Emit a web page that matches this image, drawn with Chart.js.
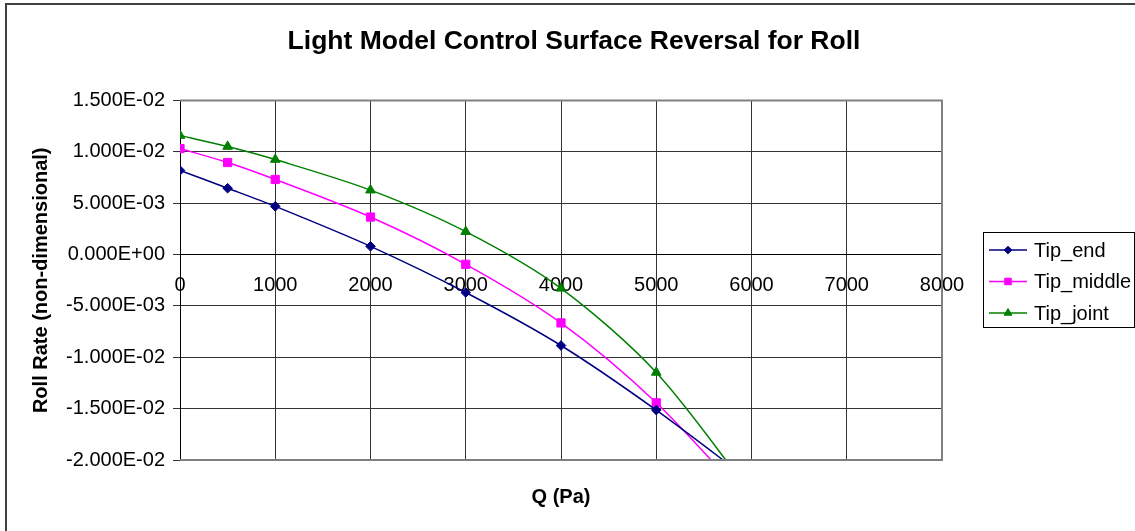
<!DOCTYPE html>
<html>
<head>
<meta charset="utf-8">
<script src="https://cdn.jsdelivr.net/npm/chart.js@4.4.0/dist/chart.umd.min.js"></script>
<style>
  html, body { margin: 0; padding: 0; background: #fff; }
  canvas { display: block; }
</style>
</head>
<body>
<canvas id="c" width="1135" height="531"></canvas>
<script>
// ---- Data ----
const qValues   = [0, 500, 1000, 2000, 3000, 4000, 5000, 6000];
const tipEnd    = [0.00820, 0.00647, 0.00470, 0.00081, -0.00369, -0.00885, -0.01514, -0.0221];
const tipMiddle = [0.01033, 0.00897, 0.00732, 0.00366, -0.00094, -0.00665, -0.01443, -0.0243];
const tipJoint  = [0.01160, 0.01053, 0.00926, 0.00628, 0.00224, -0.00328, -0.01147, -0.0233];

const seriesNames  = ['Tip_end', 'Tip_middle', 'Tip_joint'];
const seriesValues = [tipEnd, tipMiddle, tipJoint];
const seriesColors = ['#000080', '#FF00FF', '#008000'];
const seriesMarkers = ['rectRot', 'rect', 'triangle'];
const seriesMarkerRadius = [4.8, 5.8, 5.6];

const xTickValues = [0, 1000, 2000, 3000, 4000, 5000, 6000, 7000, 8000];
const yTickValues = [-0.02, -0.015, -0.01, -0.005, 0, 0.005, 0.01, 0.015];

const titleText = 'Light Model Control Surface Reversal for Roll';
const xTitle = 'Q (Pa)';
const yTitle = 'Roll Rate (non-dimensional)';

const FONT = "'Liberation Sans', Arial, Helvetica, sans-serif";

function sciLabel(v) {
  const r = Math.round(v * 1e9) / 1e9;
  const parts = r.toExponential(3).split('e');
  const e = parseInt(parts[1], 10);
  return parts[0] + 'E' + (e < 0 ? '-' : '+') + String(Math.abs(e)).padStart(2, '0');
}

const datasets = seriesNames.map((name, i) => ({
  label: name,
  data: qValues.map((q, k) => ({ x: q, y: seriesValues[i][k] })),
  borderColor: seriesColors[i],
  backgroundColor: seriesColors[i],
  pointBackgroundColor: seriesColors[i],
  pointBorderColor: seriesColors[i],
  pointStyle: seriesMarkers[i],
  pointRadius: seriesMarkerRadius[i],
  pointBorderWidth: 1,
  borderWidth: 1.5,
  tension: 0.3,
  fill: false
}));

const framePlugin = {
  id: 'frame',
  beforeDraw(chart) {
    const ctx = chart.ctx;
    ctx.save();
    ctx.fillStyle = '#ffffff';
    ctx.fillRect(0, 0, chart.width, chart.height);
    ctx.restore();
  },
  afterDraw(chart) {
    const ctx = chart.ctx;
    const a = chart.chartArea;
    ctx.save();
    // outer chart border (top and left visible)
    ctx.strokeStyle = '#404040';
    ctx.lineWidth = 2;
    ctx.beginPath();
    ctx.moveTo(6, chart.height);
    ctx.lineTo(6, 4);
    ctx.lineTo(chart.width, 4);
    ctx.stroke();
    // plot-area border
    ctx.strokeStyle = '#808080';
    ctx.lineWidth = 2;
    ctx.beginPath();
    ctx.moveTo(a.left, a.top);
    ctx.lineTo(a.right, a.top);
    ctx.lineTo(a.right, a.bottom);
    ctx.lineTo(a.left, a.bottom);
    ctx.stroke();
    // legend
    const lx = 983, ly = 232, lw = 151, lh = 95;
    ctx.lineWidth = 1;
    ctx.strokeStyle = '#000';
    ctx.strokeRect(lx + 0.5, ly + 0.5, lw, lh);
    chart.data.datasets.forEach((ds, i) => {
      const y = 250 + i * 31.5;
      ctx.strokeStyle = ds.borderColor;
      ctx.lineWidth = 1.5;
      ctx.beginPath();
      ctx.moveTo(989, y);
      ctx.lineTo(1027, y);
      ctx.stroke();
      ctx.fillStyle = ds.pointBackgroundColor;
      ctx.strokeStyle = ds.pointBorderColor;
      ctx.lineWidth = 1;
      Chart.helpers.drawPoint(ctx, {
        pointStyle: ds.pointStyle, radius: ds.pointRadius * 0.8, rotation: 0, borderWidth: 1
      }, 1008, y);
      ctx.fillStyle = '#000';
      ctx.font = '20px ' + FONT;
      ctx.textBaseline = 'middle';
      ctx.textAlign = 'left';
      ctx.fillText(ds.label, 1034, y + 1);
    });
    ctx.restore();
  }
};

new Chart(document.getElementById('c'), {
  type: 'line',
  data: { datasets },
  plugins: [framePlugin],
  options: {
    responsive: false,
    animation: false,
    devicePixelRatio: 1,
    layout: { padding: { left: 13, right: 0, top: 0, bottom: 71 } },
    elements: { line: { capBezierPoints: false } },
    plugins: {
      legend: { display: false },
      tooltip: { enabled: false },
      title: {
        display: true,
        text: titleText,
        color: '#000',
        font: { family: FONT, size: 26.5, weight: 'bold' },
        padding: { top: 26, bottom: 42.8 }
      }
    },
    scales: {
      x: {
        type: 'linear',
        position: { y: 0 },
        min: 0,
        max: 8000,
        afterBuildTicks: (s) => { s.ticks = xTickValues.map(v => ({ value: v })); },
        ticks: {
          color: '#000',
          font: { family: FONT, size: 20 },
          padding: 13,
          maxRotation: 0,
          autoSkip: false,
          callback: (v) => String(v)
        },
        grid: { color: '#333', lineWidth: 1, tickLength: 6 },
        border: { display: true, color: '#000', width: 1 },
        title: {
          display: true,
          text: xTitle,
          color: '#000',
          font: { family: FONT, size: 20, weight: 'bold' },
          padding: { top: 175, bottom: -30 }
        }
      },
      y: {
        type: 'linear',
        position: 'left',
        min: -0.02,
        max: 0.015,
        afterBuildTicks: (s) => { s.ticks = yTickValues.map(v => ({ value: v })); },
        ticks: {
          color: '#000',
          font: { family: FONT, size: 20 },
          padding: 8,
          callback: (v) => sciLabel(v)
        },
        grid: { color: '#333', lineWidth: 1, tickLength: 7 },
        border: { display: true, color: '#000', width: 1 },
        title: {
          display: true,
          text: yTitle,
          color: '#000',
          font: { family: FONT, size: 20, weight: 'bold' },
          padding: { top: 16, bottom: 0 }
        },
        afterFit: (s) => { s.width = 167; }
      },
      legendSpace: {
        axis: 'y',
        type: 'linear',
        position: 'right',
        display: true,
        ticks: { display: false },
        grid: { display: false, drawTicks: false },
        border: { display: false },
        afterFit: (s) => { s.width = 193; }
      }
    }
  }
});
</script>
</body>
</html>
